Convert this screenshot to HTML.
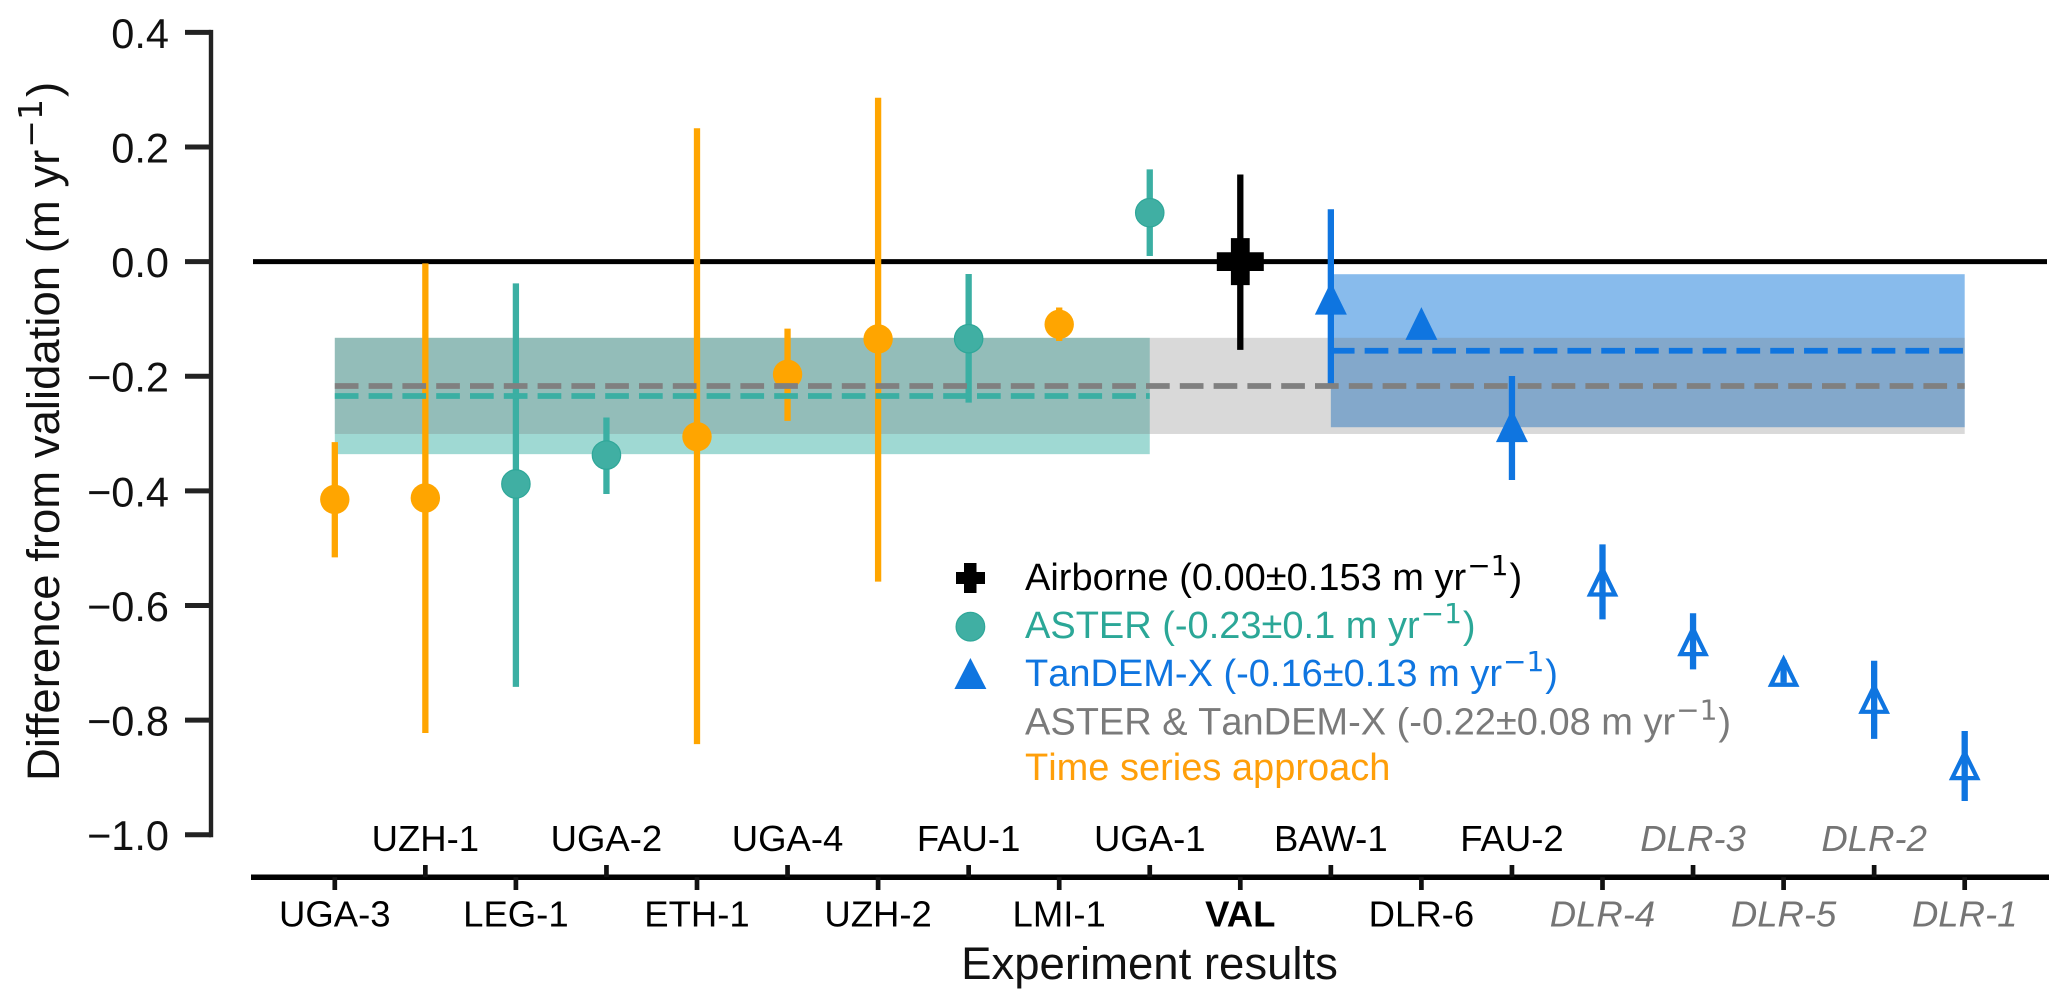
<!DOCTYPE html>
<html lang="en">
<head>
<meta charset="utf-8">
<title>Difference from validation by experiment</title>
<style>
  html, body { margin: 0; padding: 0; background: #ffffff; }
  svg { display: block; }
  text { font-family: "Liberation Sans", sans-serif; }
  .sup { font-family: "DejaVu Sans", sans-serif; }
  .legend-text { font-kerning: none; }
</style>
</head>
<body>
<svg id="chart" xmlns="http://www.w3.org/2000/svg" width="2067" height="1008" viewBox="0 0 2067 1008">
  <rect x="0" y="0" width="2067" height="1008" fill="#ffffff"/>
  <g id="bands"></g>
  <g id="zero"></g>
  <g id="marks"></g>
  <g id="means"></g>
  <g id="axes"></g>

  <text transform="translate(59,781) rotate(-90)" font-size="45.5" fill="#111111">Difference from validation (m yr<tspan class="sup" font-size="33" dx="2" dy="-17">−1</tspan><tspan dx="2" dy="17">)</tspan></text>
  <text x="1149.5" y="979" font-size="45.5" text-anchor="middle" fill="#111111">Experiment results</text>

  <g>
    <g>
      <polygon points="964,563 976.5,563 976.5,572 985,572 985,584 976.5,584 976.5,593 964,593 964,584 956,584 956,572 964,572" fill="#000000"/>
      <text class="legend-text" x="1025" y="590" font-size="38" fill="#000000">Airborne (0.00±0.153 m yr<tspan class="sup" font-size="28" dx="1" dy="-15">−1</tspan><tspan dx="1" dy="15">)</tspan></text>
    </g>
    <g>
      <circle cx="970.4" cy="626.7" r="14.3" fill="#40AFA3" stroke="#2FA799" stroke-width="1.2"/>
      <text class="legend-text" x="1025" y="638" font-size="38" fill="#2BA797">ASTER (-0.23±0.1 m yr<tspan class="sup" font-size="28" dx="1" dy="-15">−1</tspan><tspan dx="1" dy="15">)</tspan></text>
    </g>
    <g>
      <polygon points="970.4,658 986.4,689 954.4,689" fill="#0F75E0"/>
      <text class="legend-text" x="1025" y="686" font-size="38" fill="#0F75E0">TanDEM-X (-0.16±0.13 m yr<tspan class="sup" font-size="28" dx="1" dy="-15">−1</tspan><tspan dx="1" dy="15">)</tspan></text>
    </g>
    <text class="legend-text" x="1025" y="734.7" font-size="38" fill="#7A7A7A">ASTER &amp; TanDEM-X (-0.22±0.08 m yr<tspan class="sup" font-size="28" dx="1" dy="-15">−1</tspan><tspan dx="1" dy="15">)</tspan></text>
    <text class="legend-text" x="1025" y="780" font-size="38" fill="#FF9F0A">Time series approach</text>
  </g>
</svg>

<script>
const categories = ['UGA-3','UZH-1','LEG-1','UGA-2','ETH-1','UGA-4','UZH-2','FAU-1','LMI-1','UGA-1','VAL','BAW-1','DLR-6','FAU-2','DLR-4','DLR-3','DLR-5','DLR-2','DLR-1'];
const centerValues = [-0.415,-0.4125,-0.388,-0.3375,-0.3055,-0.1967,-0.135,-0.1345,-0.1095,0.0853,0,-0.065,-0.109,-0.2874,-0.5556,-0.6596,-0.713,-0.7603,-0.876];
const upperValues = [-0.315,-0.003,-0.038,-0.272,0.2326,-0.117,0.286,-0.0216,-0.08,0.161,0.152,0.0913,-0.095,-0.1997,-0.4935,-0.6137,-0.695,-0.6964,-0.819];
const lowerValues = [-0.516,-0.8225,-0.742,-0.4055,-0.842,-0.278,-0.5585,-0.246,-0.1385,0.0098,-0.154,-0.218,-0.12,-0.381,-0.6243,-0.7116,-0.735,-0.8327,-0.9413];
const methods = ['time','time','aster','aster','time','time','time','aster','time','aster','airborne','tandem','tandem','tandem','tandem-open','tandem-open','tandem-open','tandem-open','tandem-open'];
const yTickValues = [0.4,0.2,0,-0.2,-0.4,-0.6,-0.8,-1];
const yTickLabels = ['0.4','0.2','0.0','−0.2','−0.4','−0.6','−0.8','−1.0'];
const asterSpan = ['UGA-3','UGA-1'];
const asterBand = [-0.133,-0.336];
const asterMean = [-0.2345];
const tandemSpan = ['BAW-1','DLR-1'];
const tandemBand = [-0.022,-0.289];
const tandemMean = [-0.1555];
const combinedSpan = ['UGA-3','DLR-1'];
const combinedBand = [-0.133,-0.3008];
const combinedMean = [-0.217];

const SVG_NS = 'http://www.w3.org/2000/svg';

function xScale(i) { return 334.8 + 90.55 * i; }
function yScale(v) { return 261.6 - 573.1 * v; }
function xOf(name) { return xScale(categories.indexOf(name)); }

function make(parent, tag, attrs) {
  const el = document.createElementNS(SVG_NS, tag);
  for (const k in attrs) el.setAttribute(k, attrs[k]);
  parent.appendChild(el);
  return el;
}

function slug(s) { return s.toLowerCase(); }

const bandsG = document.getElementById('bands');
const zeroG = document.getElementById('zero');
const marksG = document.getElementById('marks');
const meansG = document.getElementById('means');
const axesG = document.getElementById('axes');

function drawBand(span, band, fill, opacity, name) {
  const x0 = xOf(span[0]), x1 = xOf(span[1]);
  const y0 = yScale(band[0]), y1 = yScale(band[1]);
  const el = make(bandsG, 'rect', { x: x0, y: y0, width: x1 - x0, height: y1 - y0, fill: fill, 'fill-opacity': opacity });
  
  
}
drawBand(asterSpan, asterBand, '#9FD9D3', 1, 'aster-uncertainty-band');
drawBand(tandemSpan, tandemBand, '#88BBEC', 1, 'tandem-x-uncertainty-band');
drawBand(combinedSpan, combinedBand, '#767878', 0.28, 'combined-uncertainty-band');

const zeroLine = make(zeroG, 'line', { x1: 253, x2: 2047, y1: yScale(0), y2: yScale(0), stroke: '#000000', 'stroke-width': 5 });



function methodColor(m) {
  if (m === 'time') return '#FFA500';
  if (m === 'aster') return '#3BAFA3';
  if (m === 'airborne') return '#000000';
  return '#0F75E0';
}

categories.forEach(function (cat, i) {
  const m = methods[i];
  const color = methodColor(m);
  const x = xScale(i);
  const cy = yScale(centerValues[i]);

  const bar = make(marksG, 'line', { x1: x, x2: x, y1: yScale(upperValues[i]), y2: yScale(lowerValues[i]), stroke: color, 'stroke-width': 6.3 });
  
  

  let marker;
  if (m === 'time' || m === 'aster') {
    marker = make(marksG, 'circle', { cx: x, cy: cy, r: m === 'aster' ? 14.2 : 14.7, fill: m === 'aster' ? '#40AFA3' : color });
    if (m === 'aster') { marker.setAttribute('stroke', '#2FA799'); marker.setAttribute('stroke-width', '1.2'); }
  } else if (m === 'airborne') {
    const a = 23.5, b = 9.4;
    const pts = [[-b,-a],[b,-a],[b,-b],[a,-b],[a,b],[b,b],[b,a],[-b,a],[-b,b],[-a,b],[-a,-b],[-b,-b]];
    marker = make(marksG, 'polygon', { points: pts.map(function (p) { return (x + p[0]) + ',' + (cy + p[1]); }).join(' '), fill: color });
  } else if (m === 'tandem') {
    marker = make(marksG, 'polygon', { points: x + ',' + (cy - 17) + ' ' + (x + 16) + ',' + (cy + 15.8) + ' ' + (x - 16) + ',' + (cy + 15.8), fill: color });
  } else {
    marker = make(marksG, 'polygon', { points: x + ',' + (cy - 11) + ' ' + (x + 12.5) + ',' + (cy + 14.5) + ' ' + (x - 12.5) + ',' + (cy + 14.5), fill: 'none', stroke: color, 'stroke-width': 4.2 });
  }
  
  
});

function drawMean(span, value, color, name) {
  const el = make(meansG, 'line', { x1: xOf(span[0]), x2: xOf(span[1]), y1: yScale(value), y2: yScale(value), stroke: color, 'stroke-width': 5.8, 'stroke-dasharray': '23.7 10.1' });
  
  
}
drawMean(combinedSpan, combinedMean[0], '#808080', 'combined-mean-line');
drawMean(asterSpan, asterMean[0], '#3BAFA3', 'aster-mean-line');
drawMean(tandemSpan, tandemMean[0], '#0F75E0', 'tandem-x-mean-line');

const ySpine = make(axesG, 'line', { x1: 211, x2: 211, y1: yScale(0.4) - 2.5, y2: yScale(-1) + 2.5, stroke: '#222222', 'stroke-width': 4.4 });



const xSpine = make(axesG, 'line', { x1: 251, x2: 2049, y1: 877.2, y2: 877.2, stroke: '#000000', 'stroke-width': 5.5 });



yTickValues.forEach(function (v, i) {
  const y = yScale(v);
  const tick = make(axesG, 'line', { x1: 185, x2: 211, y1: y, y2: y, stroke: '#222222', 'stroke-width': 5 });
  
  
  const label = make(axesG, 'text', { x: 169, y: y + 15.5, 'font-size': 41.5, 'text-anchor': 'end', fill: '#111111' });
  label.textContent = yTickLabels[i];
  
  
});

categories.forEach(function (cat, i) {
  const x = xScale(i);
  const upperRow = i % 2 === 1;
  const tick = make(axesG, 'line', { x1: x, x2: x, y1: upperRow ? 865 : 877.2, y2: upperRow ? 877.2 : 890, stroke: '#111111', 'stroke-width': 4.7 });
  
  
  const label = make(axesG, 'text', { x: x, y: upperRow ? 851 : 926.7, 'font-size': 36.5, 'text-anchor': 'middle', fill: '#000000' });
  if (methods[i] === 'tandem-open') {
    label.setAttribute('font-style', 'italic');
    label.setAttribute('fill', '#757575');
  }
  if (cat === 'VAL') label.setAttribute('font-weight', 'bold');
  label.textContent = cat;
  
  
});
</script>
</body>
</html>
